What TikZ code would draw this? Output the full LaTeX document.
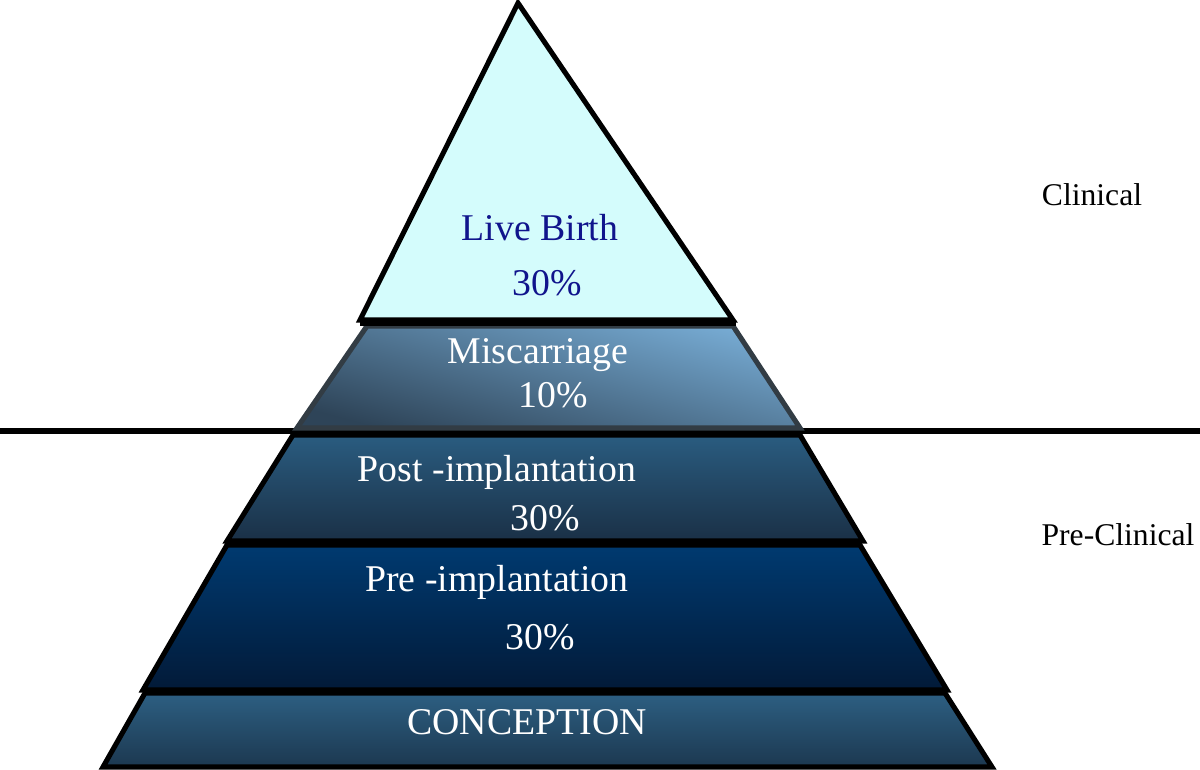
\documentclass[tikz,border=0pt]{standalone}
\usepackage{fontspec}
\setmainfont{Liberation Serif}
\definecolor{tipcyan}{RGB}{212,252,252}
\definecolor{livenavy}{RGB}{16,20,140}
\definecolor{misclight}{RGB}{118,170,210}
\definecolor{miscdark}{RGB}{46,68,88}
\definecolor{misclineclr}{RGB}{50,60,68}
\definecolor{posttop}{RGB}{42,92,128}
\definecolor{postbot}{RGB}{26,48,70}
\definecolor{pretop}{RGB}{0,58,112}
\definecolor{prebot}{RGB}{2,26,56}
\definecolor{contop}{RGB}{45,95,130}
\definecolor{conbot}{RGB}{28,56,80}
\begin{document}
\begin{tikzpicture}
[x=0.02cm, y=-0.02cm, line width=2.9pt,
 layer/.style={draw=black, line join=miter},
 lbl/.style={text=white, font=\fontsize{21.5}{26}\selectfont},
 side/.style={font=\fontsize{18}{22}\selectfont}]
\useasboundingbox (0,0) rectangle (1200,770);
% dividing line
\coordinate (divL) at (0,431);
\coordinate (divR) at (1200,431);
\draw [line width=3.2pt] (divL) -- (divR);
% pyramid layers
\path [layer, fill=tipcyan] (518,3) -- (733,320) -- (360,320) -- cycle;
\path [layer, draw=misclineclr, top color=misclight, bottom color=miscdark, shading angle=-15]
  (367,326) -- (733,326) -- (800,428) -- (297,428) -- cycle;
\draw [line width=3pt] (360,323) -- (736,323);
\path [layer, top color=posttop, bottom color=postbot] (293,435) -- (800,435) -- (863,541) -- (227,541) -- cycle;
\path [layer, top color=pretop, bottom color=prebot] (227,545) -- (860,545) -- (947,690) -- (143,690) -- cycle;
\path [layer, top color=contop, bottom color=conbot] (145,693) -- (945,693) -- (992,767) -- (103,767) -- cycle;
% labels
\path (540,228) node (live) [lbl, text=livenavy] {Live Birth}
(547,283) node (livepct) [lbl, text=livenavy] {30\%}
(538,355) node (misc) [lbl] {Miscarriage}
(553,395) node (miscpct) [lbl] {10\%}
(497,472) node (post) [lbl] {Post -implantation}
(545,518) node (postpct) [lbl] {30\%}
(497,582) node (pre) [lbl] {Pre -implantation}
(540,637) node (prepct) [lbl] {30\%}
(527,722) node (concep) [lbl] {CONCEPTION}
(1092,195) node (clin) [side] {Clinical}
(1118,535) node (preclin) [side] {Pre-Clinical};
\end{tikzpicture}
\end{document}
